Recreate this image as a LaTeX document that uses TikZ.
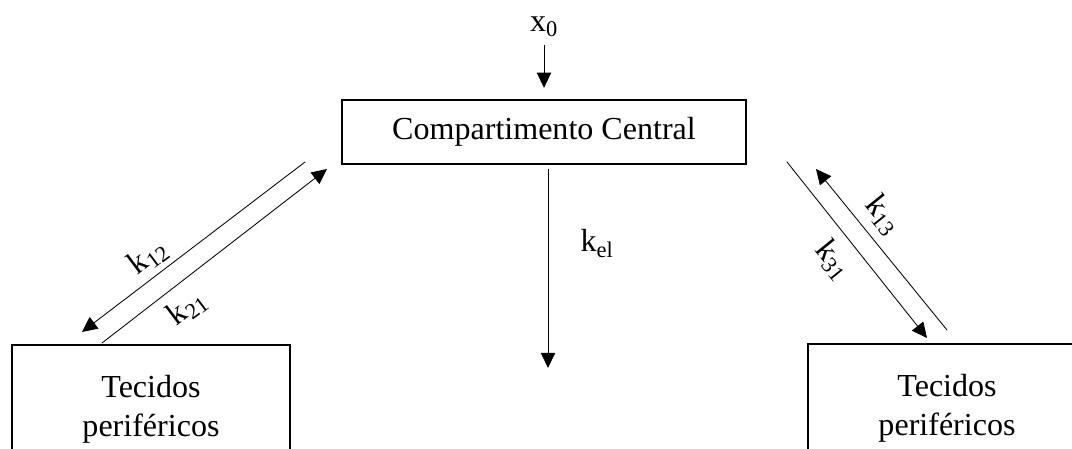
\documentclass[tikz,border=0pt]{standalone}
\usepackage{fontspec}
\setmainfont{Liberation Serif}
\usepackage{tkz-euclide}
\usetikzlibrary{arrows.meta,calc}

\tikzset{
  compbox/.style={draw,line width=1.4pt,inner sep=0pt,minimum width=10.1cm,minimum height=1.6cm},
  tecbox/.style={draw,line width=1.4pt,anchor=north,text width=6.95cm,align=center,
    inner xsep=0pt,inner ysep=.75cm},
  ratelbl/.style={inner sep=0pt},
  arr/.style={line width=.6pt,-{Triangle[length=3.8mm,width=3.6mm]}}
}

\begin{document}
\begin{tikzpicture}[font=\fontsize{22.8}{27.7}\selectfont]
\useasboundingbox (0,0) rectangle (26.8,11.2);
\clip (0,0) rectangle (26.8,11.2);
\tkzSetUpLine[line width=.6pt,color=black]

\node[compbox] (central) at (13.6,7.9) {Compartimento Central};
\node[tecbox] (tecA) at (3.775,2.6) {Tecidos\\periféricos};
\node[tecbox] (tecB) at (23.675,2.625) {Tecidos\\periféricos};

\node[ratelbl,anchor=base] (x0) at (13.6,10.4) {x\textsubscript{0}};
\draw[arr,shorten <=.18cm,shorten >=.28cm] (x0) -- (central);

\tkzDefPoints{13.7/2/Kel,
  7.625/7.15/A1,2.05/2.9/A2,2.55/2.625/B1,8.175/6.975/B2,
  19.675/7.15/C1,23.175/2.75/C2,23.675/2.95/D1,20.4/6.975/D2}

\draw[arr,shorten <=.1cm] (central.south -| Kel) -- (Kel);
\node[ratelbl,anchor=base] (kel) at (14.925,4.9) {k\textsubscript{el}};

\tkzDrawSegments[arr](A1,A2 B1,B2 C1,C2 D1,D2)

\node[ratelbl,rotate=37] (k12) at (3.7,4.775) {k\textsubscript{12}};
\node[ratelbl,rotate=37] (k21) at (4.675,3.5) {k\textsubscript{21}};
\node[ratelbl,rotate=-51] (k13) at (22.075,5.825) {k\textsubscript{13}};
\node[ratelbl,rotate=-51] (k31) at (20.825,4.7) {k\textsubscript{31}};

\end{tikzpicture}
\end{document}
